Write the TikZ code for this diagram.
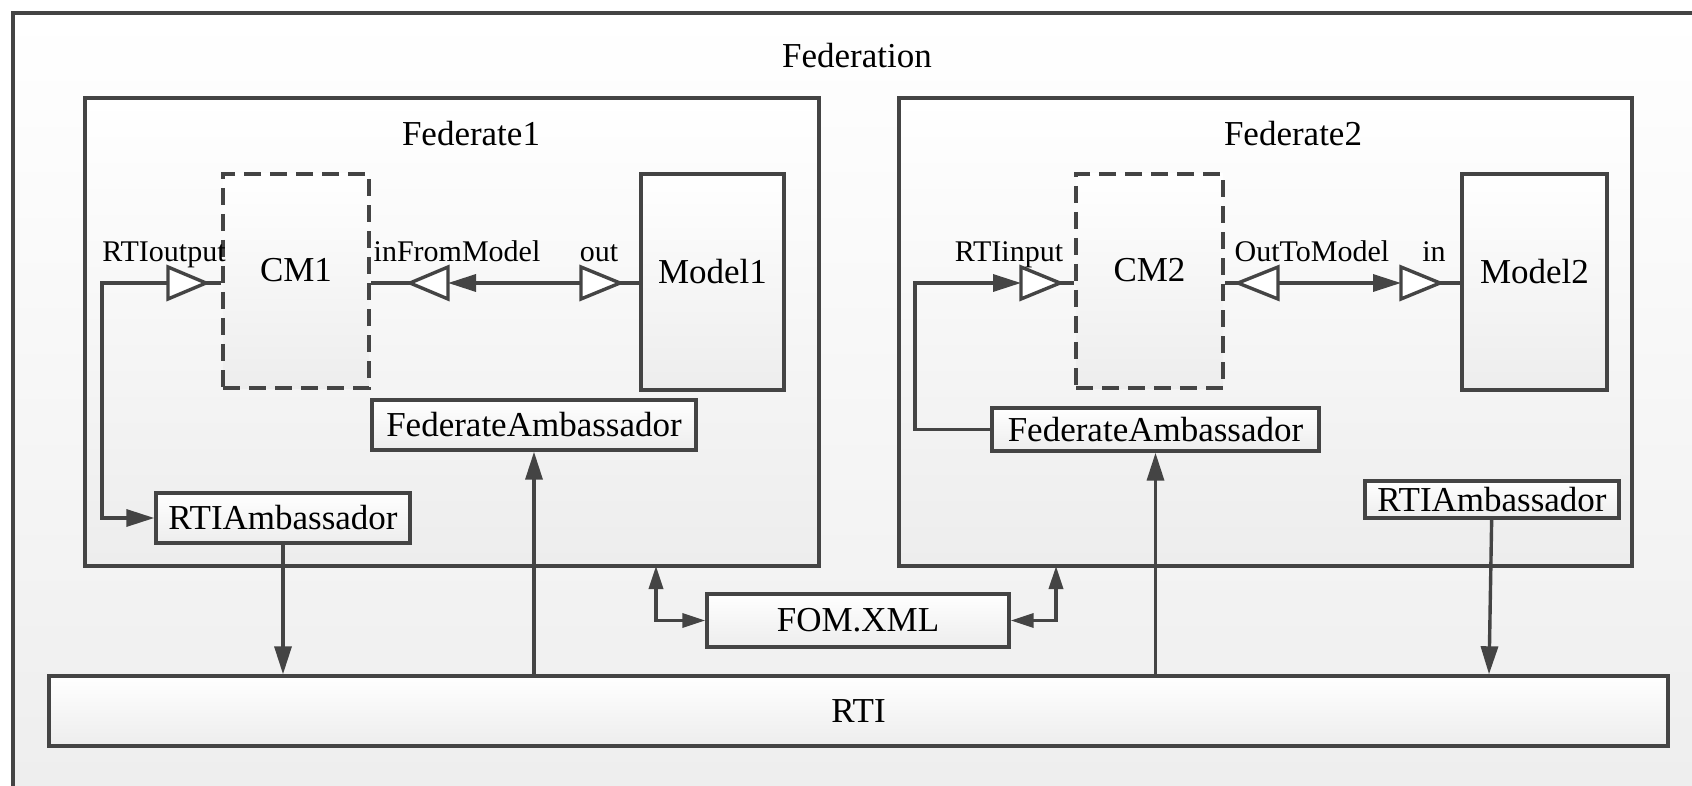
\documentclass[tikz,border=0pt]{standalone}
\usepackage{fontspec}
\setmainfont{Liberation Serif}
\usetikzlibrary{arrows.meta}

\definecolor{edge}{HTML}{444444}
\definecolor{shadebot}{HTML}{EDEDED}

\tikzset{
  box/.style={draw=edge, line width=3.4pt, top color=white, bottom color=shadebot, inner sep=0pt,
    font=\fontsize{35}{40}\selectfont},
  cmbox/.style={box, dash pattern=on 17pt off 9pt, text depth=22pt},
  modelbox/.style={box, text depth=22pt},
  lbl/.style={font=\fontsize{35}{40}\selectfont, inner sep=0pt, anchor=base},
  portlbl/.style={font=\fontsize{30}{34}\selectfont, inner sep=0pt, anchor=base},
  conn/.style={draw=edge, line width=3.4pt},
  arr/.style={conn, -{Triangle[length=28pt,width=17pt]}},
  dblarr/.style={conn, {Triangle[length=23pt,width=14pt]}-{Triangle[length=23pt,width=14pt]}},
  port/.style={draw=edge, line width=3.4pt, fill=white, line join=miter}
}

\begin{document}
\begin{tikzpicture}[x=1pt,y=-1pt]
\useasboundingbox (0,0) rectangle (1692,786);
\clip (0,0) rectangle (1692,786);
\fill[white] (0,0) rectangle (1692,786);

% federation frame
\draw[box] (13,13) rectangle (1730,830);
\node[lbl] (fedlbl) at (857,68) {Federation};

% federates
\node[box, minimum width=734pt, minimum height=468pt] (fed1) at (452,332) {};
\node[box, minimum width=733pt, minimum height=468pt] (fed2) at (1265.5,332) {};
\node[lbl] (fed1lbl) at (471,146) {Federate1};
\node[lbl] (fed2lbl) at (1293,146) {Federate2};

% federate 1
\node[cmbox, minimum width=146pt, minimum height=214pt] (cm1) at (296,281) {CM1};
\node[modelbox, minimum width=143pt, minimum height=216pt] (model1) at (712.5,282) {Model1};
\node[box, minimum width=324pt, minimum height=50pt] (fa1) at (534,425) {FederateAmbassador};
\node[box, minimum width=254pt, minimum height=50pt] (ra1) at (283,518) {RTIAmbassador};

% federate 2
\node[cmbox, minimum width=147pt, minimum height=214pt] (cm2) at (1149.5,281) {CM2};
\node[modelbox, minimum width=145pt, minimum height=216pt] (model2) at (1534.5,282) {Model2};
\node[box, minimum width=327pt, minimum height=43pt] (fa2) at (1155.5,429.5) {FederateAmbassador};
\node[box, minimum width=254pt, minimum height=37pt] (ra2) at (1492,499.5) {RTIAmbassador};

% runtime
\node[box, minimum width=302pt, minimum height=53pt] (fom) at (858,620.5) {FOM.XML};
\node[box, minimum width=1619pt, minimum height=70pt] (rti) at (858.5,711) {RTI};

% port ends
\coordinate (rtiout) at (168,283);
\coordinate (rtiouttip) at (206,283);
\coordinate (ifm) at (448,283);
\coordinate (ifmtip) at (410,283);
\coordinate (out1) at (581,283);
\coordinate (out1tip) at (620,283);
\coordinate (rtiin) at (1021,283);
\coordinate (rtiintip) at (1060,283);
\coordinate (otm) at (1278,283);
\coordinate (otmtip) at (1238,283);
\coordinate (in2) at (1401,283);
\coordinate (in2tip) at (1440,283);
\coordinate (f1x) at (656,566);
\coordinate (f2x) at (1056,566);

% connectors
\draw[arr] (rtiout) -- (102,283) |- (ra1);
\draw[conn] (rtiouttip) -- (cm1.west |- rtiouttip);
\draw[conn] (ifmtip) -- (cm1.east |- ifmtip);
\draw[arr] (out1) -- (ifm);
\draw[conn] (out1tip) -- (model1.west |- out1tip);

\draw[arr] (fa2.west) -- (915,429.5) |- (rtiin);
\draw[conn] (rtiintip) -- (cm2.west |- rtiintip);
\draw[conn] (otmtip) -- (cm2.east |- otmtip);
\draw[arr] (otm) -- (in2);
\draw[conn] (in2tip) -- (model2.west |- in2tip);

\draw[arr] (ra1) -- (ra1 |- rti.north);
\draw[arr] (rti.north -| fa1) -- (fa1);
\draw[arr] (rti.north -| fa2) -- (fa2);
\draw[arr] (ra2) -- ([xshift=-3pt]ra2 |- rti.north);
\draw[dblarr] (f1x) |- (fom);
\draw[dblarr] (f2x) |- (fom);

% ports
\draw[port] (168,267) -- (rtiouttip) -- (168,299) -- cycle;
\draw[port] (448,267) -- (ifmtip) -- (448,299) -- cycle;
\draw[port] (581,267) -- (out1tip) -- (581,299) -- cycle;
\draw[port] (1021,267) -- (rtiintip) -- (1021,299) -- cycle;
\draw[port] (1278,267) -- (otmtip) -- (1278,299) -- cycle;
\draw[port] (1401,267) -- (in2tip) -- (1401,299) -- cycle;

% port labels
\node[portlbl] (rtioutlbl) at (164,262) {RTIoutput};
\node[portlbl] (ifmlbl) at (457,262) {inFromModel};
\node[portlbl] (out1lbl) at (599,262) {out};
\node[portlbl] (rtiinlbl) at (1009,262) {RTIinput};
\node[portlbl] (otmlbl) at (1312,262) {OutToModel};
\node[portlbl] (in2lbl) at (1434,262) {in};
\end{tikzpicture}
\end{document}
